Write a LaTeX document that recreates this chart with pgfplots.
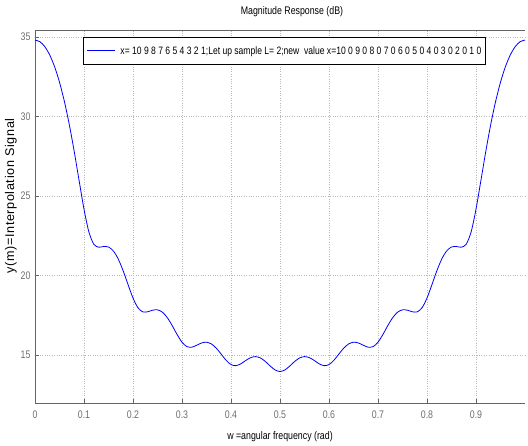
\documentclass[border=0pt]{standalone}
\usepackage{fontspec}
\setmainfont{Liberation Sans}[FakeStretch=0.8]
\newfontfamily\ylabfont{Liberation Sans}[LetterSpace=5]
\usepackage{pgfplots}
\pgfplotsset{compat=1.18}
\definecolor{axgray}{RGB}{100,100,100}
\definecolor{tickgray}{RGB}{110,110,110}
\definecolor{gridgray}{RGB}{185,185,185}
\begin{document}
\begin{tikzpicture}
\begin{axis}[
  name=ax,
  scale only axis,
  width=490pt, height=373pt,
  xmin=0, xmax=1, ymin=12, ymax=35.44,
  axis lines*=left,
  axis line style={axgray, line width=0.8pt},
  xtick={0,0.1,0.2,0.3,0.4,0.5,0.6,0.7,0.8,0.9},
  ytick={15,20,25,30,35},
  tick align=inside,
  major tick length=4pt,
  tick style={axgray, line width=0.6pt},
  grid=major,
  major grid style={gridgray, dotted, line width=0.7pt},
  /pgf/number format/assume math mode=true,
  xticklabel style={/pgf/number format/fixed, /pgf/number format/precision=1},
  ticklabel style={font=\fontsize{11}{12}\selectfont, text=tickgray},
  xticklabel style={yshift=-4pt},
  yticklabel style={xshift=-1pt},
  every axis x label/.style={at={(axis description cs:0.5,0)}, anchor=center, yshift=-34pt},
  every axis y label/.style={at={(axis description cs:-0.049,0.555)}, rotate=90, anchor=center},
  every axis title/.style={at={(axis description cs:0.5,1)}, anchor=center, yshift=18pt, xshift=12pt},
  xlabel style={font=\fontsize{11}{12}\selectfont},
  ylabel style={font=\ylabfont\fontsize{12.6}{13}\selectfont},
  title style={font=\fontsize{11}{12}\selectfont},
  xlabel={w =angular frequency (rad)},
  ylabel={y(m)=Interpolation Signal},
  title={Magnitude Response (dB)},
  legend style={at={(0.098,0.981)}, anchor=north west, draw=black, line width=0.9pt,
    font=\fontsize{10.7}{12}\selectfont, inner xsep=2pt, inner ysep=7pt, fill=white},
  legend cell align=left,
  legend image code/.code={},
]
\addplot[color=blue, line width=0.8pt, smooth] coordinates {
(0.00,34.807)(0.01,34.704)(0.02,34.394)(0.03,33.871)(0.04,33.129)(0.05,32.157)(0.06,30.947)(0.07,29.494)(0.08,27.814)(0.09,25.980)(0.10,24.180)(0.11,22.748)(0.12,21.976)(0.13,21.790)(0.14,21.833)(0.15,21.802)(0.16,21.551)(0.17,21.040)(0.18,20.301)(0.19,19.431)(0.20,18.595)(0.21,17.990)(0.22,17.726)(0.23,17.733)(0.24,17.831)(0.25,17.853)(0.26,17.705)(0.27,17.363)(0.28,16.864)(0.29,16.304)(0.30,15.820)(0.31,15.543)(0.32,15.508)(0.33,15.630)(0.34,15.772)(0.35,15.819)(0.36,15.710)(0.37,15.443)(0.38,15.068)(0.39,14.685)(0.40,14.415)(0.41,14.345)(0.42,14.462)(0.43,14.670)(0.44,14.850)(0.45,14.916)(0.46,14.831)(0.47,14.612)(0.48,14.325)(0.49,14.077)(0.50,13.979)
(0.51,14.077)(0.52,14.325)(0.53,14.612)(0.54,14.831)(0.55,14.916)(0.56,14.850)(0.57,14.670)(0.58,14.462)(0.59,14.345)(0.60,14.415)(0.61,14.685)(0.62,15.068)(0.63,15.443)(0.64,15.710)(0.65,15.819)(0.66,15.772)(0.67,15.630)(0.68,15.508)(0.69,15.543)(0.70,15.820)(0.71,16.304)(0.72,16.864)(0.73,17.363)(0.74,17.705)(0.75,17.853)(0.76,17.831)(0.77,17.733)(0.78,17.726)(0.79,17.990)(0.80,18.595)(0.81,19.431)(0.82,20.301)(0.83,21.040)(0.84,21.551)(0.85,21.802)(0.86,21.833)(0.87,21.790)(0.88,21.976)(0.89,22.748)(0.90,24.180)(0.91,25.980)(0.92,27.814)(0.93,29.494)(0.94,30.947)(0.95,32.157)(0.96,33.129)(0.97,33.871)(0.98,34.394)(0.99,34.704)(1.00,34.807)
};
\addlegendentry{\textcolor{blue}{\rule[0.6ex]{28pt}{0.8pt}}\hspace{5pt}x= 10 9 8 7 6 5 4 3 2 1;Let up sample L= 2;new\ \ value x=10 0 9 0 8 0 7 0 6 0 5 0 4 0 3 0 2 0 1 0}
\draw[axgray, line width=0.8pt] (rel axis cs:0,1) -- (rel axis cs:1,1);
\end{axis}
\pgfresetboundingbox
\path (ax.south west) ++(-35pt,-43pt) coordinate (bl);
\path (ax.north east) ++(3pt,30pt) coordinate (tr);
\path[use as bounding box] (bl) rectangle (tr);
\end{tikzpicture}
\end{document}
